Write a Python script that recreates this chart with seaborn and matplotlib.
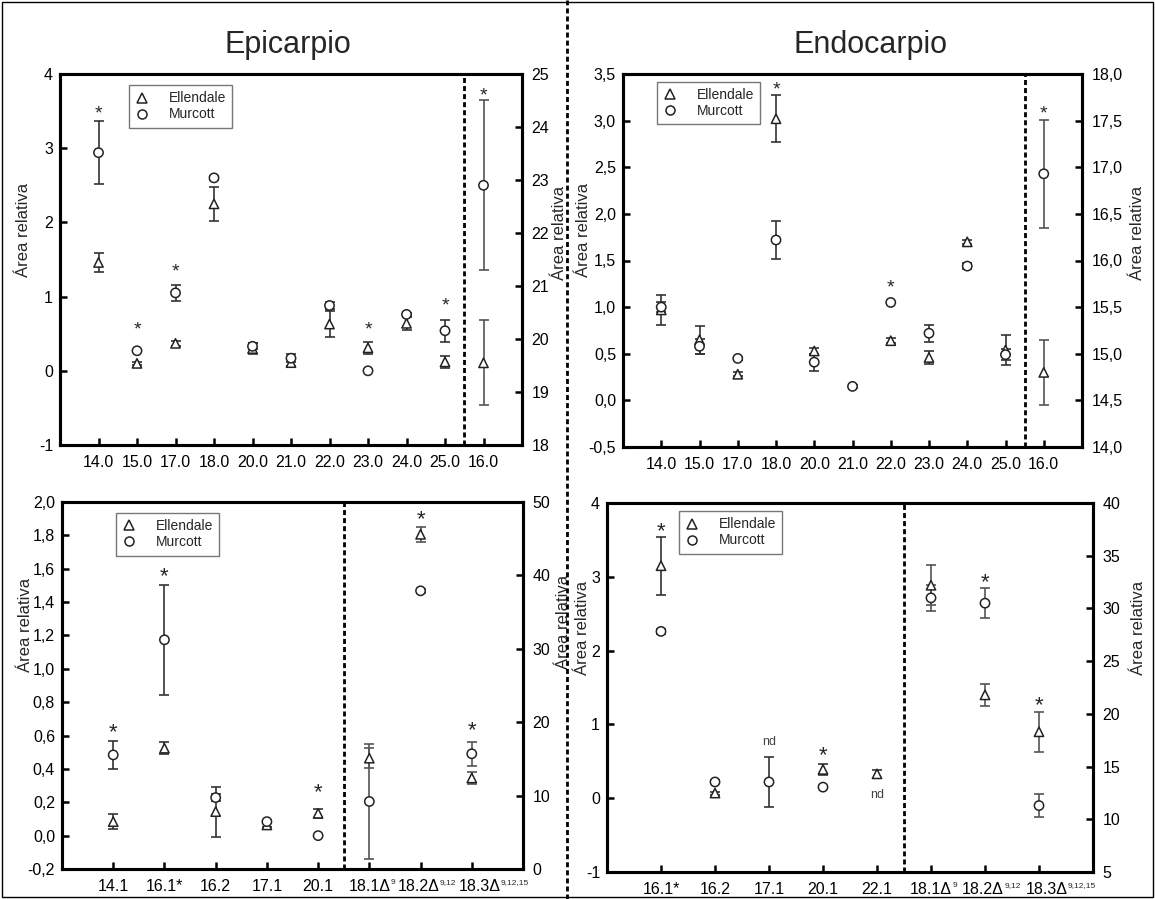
import numpy as np
import pandas as pd
import matplotlib
matplotlib.use("Agg")
import matplotlib.pyplot as plt
import matplotlib.transforms as mtransforms
import seaborn as sns
from matplotlib.lines import Line2D
from matplotlib.patches import Rectangle

nan = np.nan

# Epicarpio / Endocarpio, upper row: last compound (16.0) uses the right axis
top_labels = ["14.0", "15.0", "17.0", "18.0", "20.0", "21.0", "22.0", "23.0", "24.0", "25.0", "16.0"]

epi1_ell = [1.46, 0.10, 0.37, 2.25, 0.30, 0.11, 0.63, 0.31, 0.64, 0.12, 19.55]
epi1_ell_err = [0.13, 0.02, 0.03, 0.23, 0.07, 0.05, 0.17, 0.08, 0.09, 0.08, 0.80]
epi1_mur = [2.94, 0.27, 1.05, 2.60, 0.33, 0.17, 0.88, 0.00, 0.76, 0.54, 22.90]
epi1_mur_err = [0.42, 0.00, 0.11, 0.03, 0.04, 0.05, 0.05, 0.00, 0.02, 0.15, 1.60]
epi1_star = [3.55, 0.64, 1.42, nan, nan, nan, nan, 0.64, nan, 0.96, 24.70]

endo1_ell = [0.97, 0.65, 0.28, 3.02, 0.53, nan, 0.64, 0.46, 1.70, 0.54, 14.80]
endo1_ell_err = [0.16, 0.15, 0.02, 0.25, 0.03, nan, 0.03, 0.07, 0.02, 0.16, 0.35]
endo1_mur = [1.00, 0.58, 0.45, 1.72, 0.41, 0.15, 1.05, 0.72, 1.44, 0.49, 16.93]
endo1_mur_err = [0.05, 0.08, 0.02, 0.20, 0.09, 0.02, 0.01, 0.09, 0.03, 0.06, 0.58]
endo1_star = [nan, nan, nan, 3.40, nan, nan, 1.27, nan, nan, nan, 17.64]

# lower row: the three C18 unsaturated acids use the right axis
epi2_labels = ["14.1", "16.1*", "16.2", "17.1", "20.1", "18.1Δ", "18.2Δ", "18.3Δ"]
endo2_labels = ["16.1*", "16.2", "17.1", "20.1", "22.1", "18.1Δ", "18.2Δ", "18.3Δ"]
low_sup = ["", "", "", "", "", "9", "9,12", "9,12,15"]

epi2_ell = [0.084, 0.524, 0.144, 0.064, 0.134, 15.1, 45.6, 12.4]
epi2_ell_err = [0.045, 0.035, 0.150, 0.010, 0.027, 1.4, 1.0, 0.8]
epi2_mur = [0.484, 1.174, 0.228, 0.084, 0.000, 9.2, 37.9, 15.7]
epi2_mur_err = [0.083, 0.330, 0.020, 0.010, 0.000, 7.8, 0.3, 1.6]
epi2_star = [0.66, 1.59, nan, nan, 0.30, nan, 48.5, 19.7]

endo2_ell = [3.15, 0.07, nan, 0.39, 0.33, 32.2, 21.8, 18.3]
endo2_ell_err = [0.39, 0.02, nan, 0.08, 0.05, 1.9, 1.05, 1.9]
endo2_mur = [2.26, 0.22, 0.22, 0.15, nan, 31.0, 30.5, 11.3]
endo2_mur_err = [0.03, 0.02, 0.34, 0.01, nan, 1.2, 1.4, 1.1]
endo2_star = [3.70, nan, nan, 0.67, nan, nan, 33.1, 21.4]
endo2_nd = [nan, nan, 0.76, nan, 0.04, nan, nan, nan]

sns.set_style("ticks")
plt.rcParams["font.family"] = ["Liberation Sans", "DejaVu Sans"]

fig = plt.figure(figsize=(11.55, 8.99), dpi=100)
DASH = (0, (1.8, 1.1))


def fmt_ticks(vals, dec):
    if dec == 0:
        return [str(int(round(v))) for v in vals]
    return [f"{v:.{dec}f}".replace(".", ",") for v in vals]


def panel(rect, labels, n_left, ell, ell_err, mur, mur_err, stars,
          yl, yl_ticks, yl_dec, yr, yr_ticks, yr_dec,
          lab_l, lab_r, leg_xy, star_fs, nd=None):
    ax = fig.add_axes(rect)
    ax2 = ax.twinx()
    n = len(labels)
    pos = np.arange(n)
    df = pd.DataFrame({
        "pos": np.r_[pos, pos],
        "val": ell + mur,
        "err": ell_err + mur_err,
        "cultivar": ["Ellendale"] * n + ["Murcott"] * n,
        "side": (["left"] * n_left + ["right"] * (n - n_left)) * 2,
    }).dropna(subset=["val"])

    for side, a in [("left", ax), ("right", ax2)]:
        sub = df[df["side"] == side]
        ecol = "#333333" if side == "left" else "#555555"
        a.errorbar(sub["pos"], sub["val"], yerr=sub["err"], fmt="none",
                   ecolor=ecol, elinewidth=1.2, capsize=3.5, capthick=1.2, zorder=2)
        sns.scatterplot(data=sub, x="pos", y="val", style="cultivar",
                        markers={"Ellendale": "^", "Murcott": "o"},
                        color="white", edgecolor="#222222", linewidth=1.1,
                        s=45, legend=False, ax=a, zorder=3)
        a.set_xlabel("")
        a.set_ylabel("")

    for i, s in enumerate(stars):
        if not np.isnan(s):
            a = ax if i < n_left else ax2
            tr = mtransforms.offset_copy(a.transData, fig=fig, y=-0.55 * star_fs, units="points")
            a.text(i, s, "*", ha="center", va="baseline", fontsize=star_fs, transform=tr)
    if nd is not None:
        for i, v in enumerate(nd):
            if not np.isnan(v):
                ax.text(i, v, "nd", ha="center", va="center", fontsize=9, color="#444444")

    ax.axvline(n_left - 0.5, color="black", lw=2, ls=DASH)
    ax.set_xlim(-1, n)
    ax.set_xticks(pos)
    ax.set_xticklabels(labels)
    ax.set_ylim(*yl)
    ax.set_yticks(yl_ticks)
    ax.set_yticklabels(fmt_ticks(yl_ticks, yl_dec))
    ax2.set_ylim(*yr)
    ax2.set_yticks(yr_ticks)
    ax2.set_yticklabels(fmt_ticks(yr_ticks, yr_dec))

    for a in (ax, ax2):
        for sp in a.spines.values():
            sp.set_visible(True)
            sp.set_linewidth(2.2)
            sp.set_color("black")
        a.tick_params(direction="in", length=5, width=1.8, labelsize=11.5, colors="black")
    ax.tick_params(axis="x", pad=7)
    ax.tick_params(axis="y", pad=5)
    ax2.tick_params(axis="y", pad=7)

    ax.set_ylabel("Área relativa", fontsize=12)
    ax.yaxis.set_label_coords(*lab_l)
    ax.yaxis.label.set_verticalalignment("center")
    ax2.set_ylabel("Área relativa", fontsize=12)
    ax2.yaxis.set_label_coords(*lab_r)
    ax2.yaxis.label.set_verticalalignment("center")
    ax2.yaxis.label.set_rotation(90)

    handles = [
        Line2D([], [], marker="^", ls="none", mfc="white", mec="#222222", mew=1.1, ms=6.5, label="Ellendale"),
        Line2D([], [], marker="o", ls="none", mfc="white", mec="#222222", mew=1.1, ms=6.5, label="Murcott"),
    ]
    leg = ax2.legend(handles=handles, loc="upper left", bbox_to_anchor=leg_xy,
                     frameon=True, fancybox=False, edgecolor="#777777", framealpha=1,
                     fontsize=10, handletextpad=1.4, borderpad=0.45, labelspacing=0.15,
                     handlelength=1.0, borderaxespad=0)
    leg.get_frame().set_linewidth(1.0)
    return ax


W, H = 1155, 899


def rect(l, r, t, b):
    return [l / W, 1 - b / H, (r - l) / W, (b - t) / H]


panel(rect(60, 522, 74, 445), top_labels, 10, epi1_ell, epi1_ell_err, epi1_mur, epi1_mur_err,
      epi1_star, (-1, 4), np.arange(-1, 4.1, 1), 0, (18, 25), np.arange(18, 25.1, 1), 0,
      (-0.080, 0.58), (1.082, 0.571), (0.149, 0.97), 14)

panel(rect(623, 1082, 74, 447), top_labels, 10, endo1_ell, endo1_ell_err, endo1_mur, endo1_mur_err,
      endo1_star, (-0.5, 3.5), np.arange(-0.5, 3.51, 0.5), 1, (14, 18), np.arange(14, 18.01, 0.5), 1,
      (-0.087, 0.582), (1.122, 0.574), (0.074, 0.979), 14)

ax_el = panel(rect(62, 523, 502, 869), epi2_labels, 5, epi2_ell, epi2_ell_err, epi2_mur, epi2_mur_err,
              epi2_star, (-0.2, 2.0), np.arange(-0.2, 2.01, 0.2), 1, (0, 50), np.arange(0, 50.1, 10), 0,
              (-0.080, 0.665), (1.087, 0.673), (0.117, 0.97), 16)

ax_er = panel(rect(607, 1093, 503, 872), endo2_labels, 5, endo2_ell, endo2_ell_err, endo2_mur, endo2_mur_err,
              endo2_star, (-1, 4), np.arange(-1, 4.1, 1), 0, (5, 40), np.arange(5, 40.1, 5), 0,
              (-0.051, 0.661), (1.093, 0.661), (0.148, 0.978), 16, nd=endo2_nd)

fig.text(288 / W, 1 - 53 / H, "Epicarpio", fontsize=22, ha="center", va="baseline")
fig.text(871 / W, 1 - 53 / H, "Endocarpio", fontsize=22, ha="center", va="baseline")

fig.add_artist(Line2D([567 / W, 567 / W], [0, 1], transform=fig.transFigure,
                      color="black", lw=2, ls=DASH))
fig.add_artist(Rectangle((0.002, 0.002), 0.996, 0.996, transform=fig.transFigure,
                         fill=False, edgecolor="black", lw=1))

# small superscripts for the double-bond positions, hung off the tick labels;
# the crowded last label is nudged right so the labels only touch
fig.canvas.draw()
for ax in (ax_el, ax_er):
    labs = ax.get_xticklabels()
    labs[-1].set_transform(labs[-1].get_transform()
                           + mtransforms.ScaledTranslation(5.5 / 72, 0, fig.dpi_scale_trans))
    labs[-2].set_transform(labs[-2].get_transform()
                           + mtransforms.ScaledTranslation(-1.5 / 72, 0, fig.dpi_scale_trans))
    for lab, sup in zip(labs, low_sup):
        if sup:
            ax.annotate(sup, xy=(1.0, 1.0), xycoords=lab, xytext=(0.2, 0),
                        textcoords="offset points", ha="left", va="top", fontsize=6)

fig.savefig("out.png", dpi=100)
